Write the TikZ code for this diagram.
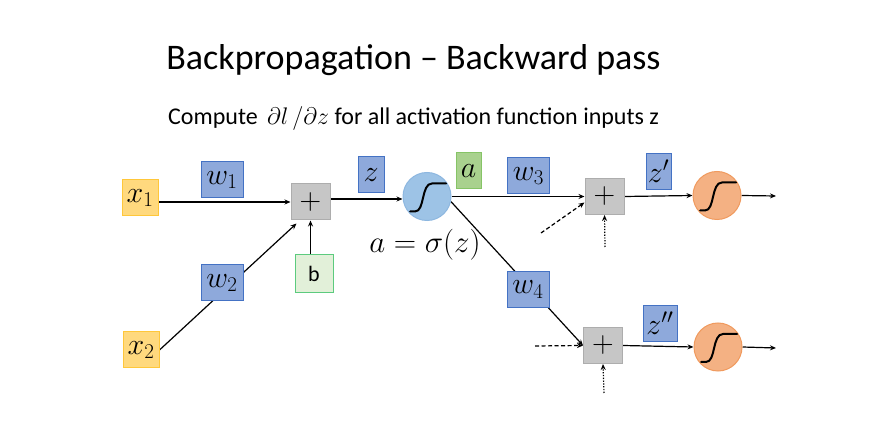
\documentclass[tikz,border=0pt]{standalone}
\usepackage{fix-cm}
\usepackage{fontspec}
\setmainfont{Carlito}
\usetikzlibrary{arrows.meta,backgrounds}
\definecolor{xfill}{HTML}{FFD97E}
\definecolor{xdraw}{HTML}{FFC73A}
\definecolor{wfill}{HTML}{8EA9DB}
\definecolor{wdraw}{HTML}{4472C4}
\definecolor{afill}{HTML}{A9D18E}
\definecolor{adraw}{HTML}{86C466}
\definecolor{bfill}{HTML}{E2F0D9}
\definecolor{bdraw}{HTML}{5CCB7E}
\definecolor{pfill}{HTML}{C6C6C6}
\definecolor{pdraw}{HTML}{ADADAD}
\definecolor{sfill}{HTML}{9DC3E6}
\definecolor{sdraw}{HTML}{8DB7E0}
\definecolor{ofill}{HTML}{F4B183}
\definecolor{odraw}{HTML}{F09A5E}
\tikzset{
  mathtxt/.style={font=\fontsize{30}{30}\selectfont},
  xbox/.style={draw=xdraw,fill=xfill,line width=1pt,minimum width=36pt,minimum height=36pt,inner sep=0pt,mathtxt},
  wbox/.style={draw=wdraw,fill=wfill,line width=1pt,minimum width=42pt,minimum height=36pt,inner sep=0pt,mathtxt},
  abox/.style={draw=adraw,fill=afill,line width=1pt,minimum width=25pt,minimum height=36pt,inner sep=0pt,mathtxt},
  bbox/.style={draw=bdraw,fill=bfill,line width=1pt,minimum width=38pt,minimum height=38pt,inner sep=0pt,font=\fontsize{22}{22}\selectfont},
  plusbox/.style={draw=pdraw,fill=pfill,line width=1pt,minimum width=39pt,minimum height=36pt,inner sep=0pt,mathtxt},
  sig/.style={circle,draw=sdraw,fill=sfill,line width=1pt,minimum size=48pt,inner sep=0pt},
  osig/.style={circle,draw=odraw,fill=ofill,line width=1pt,minimum size=48pt,inner sep=0pt},
  arr/.style={-{Stealth[length=6pt,width=5pt]},line width=1.2pt,black},
  dasharr/.style={arr,dash pattern=on 4pt off 2.5pt},
  dotarr/.style={arr,dash pattern=on 1.3pt off 1.5pt},
  curve/.style={line width=2pt,black,line cap=round}
}
\newcommand{\sigcurve}[1]{\begin{scope}[shift={(#1)}]\draw[curve] (-17,15) -- (-12,15) .. controls (-2,15) and (-6,-13) .. (5,-13) -- (19,-13);\end{scope}}
\begin{document}
\begin{tikzpicture}[x=1pt,y=-1pt]
\begin{scope}[on background layer]
\fill[white] (0,0) rectangle (889,435);
\end{scope}
\useasboundingbox (0,0) rectangle (889,435);
\node[font=\fontsize{36}{36}\selectfont,anchor=base] (title) at (413.5,70) {Backpropagation -- Backward pass};
\node[font=\fontsize{24}{24}\selectfont,anchor=base west,inner sep=0pt] (sub) at (168,125) {Compute\, $\partial l\,/\partial z$ for all activation function inputs z};

\node[xbox] (x1) at (140,198) {$x_1$};
\node[wbox] (w1) at (222,180) {$w_1$};
\node[plusbox] (p1) at (310.5,202) {$+$};
\node[wbox,minimum width=26pt] (z) at (371,175) {$z$};
\node[sig] (s1) at (427,196.5) {};
\node[abox] (a) at (468.5,171) {$a$};
\node[font=\fontsize{31}{31}\selectfont] (eq) at (425,245) {$a=\sigma(z)$};
\node[bbox] (b) at (314,274) {b};
\node[wbox] (w2) at (222,283) {$w_2$};
\node[xbox] (x2) at (141,350) {$x_2$};
\node[wbox] (w3) at (528.5,176) {$w_3$};
\node[plusbox] (p2) at (604.5,196.5) {$+$};
\node[wbox,minimum width=25pt] (z1) at (658.5,171.5) {$z'$};
\node[osig] (s2) at (717,195.5) {};
\node[wbox] (w4) at (528,289.5) {$w_4$};
\node[plusbox] (p3) at (603,345.5) {$+$};
\node[wbox,minimum width=34pt] (z2) at (660,323.5) {$z''$};
\node[osig] (s3) at (718,347) {};
\coordinate (o2) at (776,196);
\coordinate (o3) at (776,348);
\coordinate (d1) at (541,233);
\coordinate (d2) at (605,247);
\coordinate (d3) at (535,346);
\coordinate (d4) at (604,393);

\sigcurve{s1}
\sigcurve{s2}
\sigcurve{s3}

\begin{scope}[on background layer]
\draw[arr] (x1.east |- p1.west) -- (p1.west);
\draw[arr] (x2.east) -- ([shift={(6,3)}]p1.south west);
\draw[arr] (b.north -| p1.south) -- (p1.south);
\draw[arr] ([yshift=3pt]p1.east) -- ([yshift=3pt]p1.east -| s1.west);
\draw[arr] (s1.east) -- (p2.west);
\draw[arr] (s1.-12) -- (p3.west);
\draw[arr] (p2.east) -- (s2.west);
\draw[arr] (s2.east) -- (o2);
\draw[arr] (p3.east) -- (s3.west);
\draw[arr] (s3.east) -- (o3);
\draw[dasharr] (d1) -- ([yshift=-6pt]p2.west);
\draw[dotarr] (d2) -- (p2.south);
\draw[dasharr] (d3) -- (p3.west);
\draw[dotarr] (d4) -- (p3.south);
\end{scope}
\end{tikzpicture}
\end{document}
